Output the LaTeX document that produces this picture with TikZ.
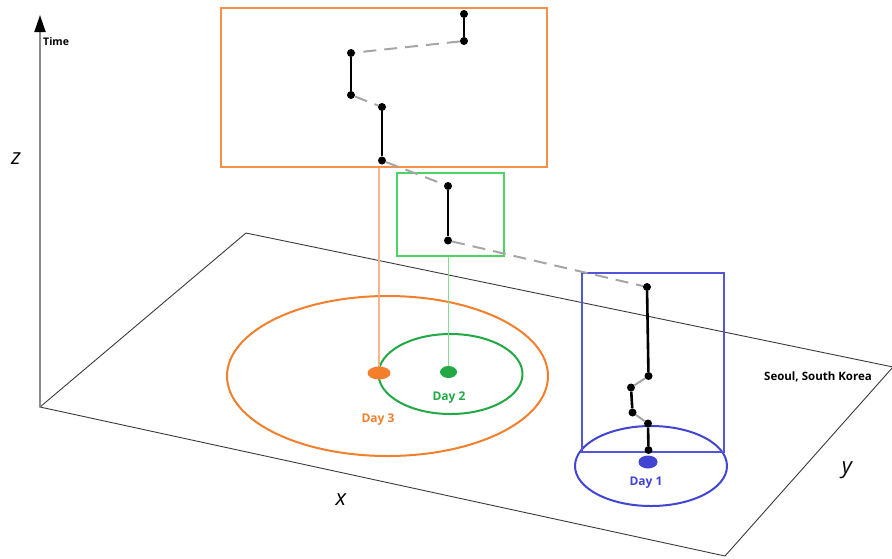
\documentclass[tikz,border=0pt]{standalone}
\usepackage{fontspec}
\setmainfont{Open Sans}
\usetikzlibrary{arrows.meta,shapes.geometric}
\definecolor{orng}{HTML}{F37F2C}
\definecolor{orngrect}{HTML}{F4904A}
\definecolor{orngline}{HTML}{F9B48A}
\definecolor{grn}{HTML}{22A845}
\definecolor{grnrect}{HTML}{4CD464}
\definecolor{grnline}{HTML}{7FE38E}
\definecolor{blu}{HTML}{4145D2}
\definecolor{blurect}{HTML}{5256D6}
\definecolor{dashgray}{HTML}{A6A6A6}
\definecolor{planegray}{HTML}{3A3A3A}
\definecolor{axisgray}{HTML}{8C8C8C}
\begin{document}
\begin{tikzpicture}[x=1pt,y=-1pt,
  dot/.style={circle,fill=black,inner sep=0pt,minimum size=8pt},
  seg/.style={black,line width=2.6pt},
  gap/.style={dashgray,line width=2pt,dash pattern=on 13pt off 8pt},
  box/.style={draw,line width=1.5pt,inner sep=0pt},
  ring/.style={draw,ellipse,line width=2pt,inner sep=0pt},
  blob/.style={ellipse,inner sep=0pt},
  daylabel/.style={font=\fontsize{12}{14}\selectfont\bfseries},
  axlabel/.style={font=\fontsize{22}{24}\selectfont\itshape},
]
\useasboundingbox (0,0) rectangle (892,558);

% plane
\coordinate (c1) at (40,407);
\coordinate (c2) at (246,233);
\coordinate (c3) at (893,367);
\coordinate (c4) at (725,556);
\draw[planegray,line width=0.9pt] (c1) -- (c2) -- (c3) -- (c4) -- cycle;

% time axis
\coordinate (ztop) at (40,15);
\draw[axisgray,line width=2pt,-{Triangle[length=17pt,width=11pt,color=black]}] (c1) -- (ztop);
\node[font=\fontsize{10.5}{12}\selectfont\bfseries,anchor=west,inner sep=0pt] (time) at (43,42) {Time};
\node[axlabel] (zlab) at (16,159) {z};
\node[axlabel] (xlab) at (341,500) {x};
\node[axlabel] (ylab) at (847,470) {y};
\node[font=\fontsize{11.5}{13}\selectfont\bfseries] (seoul) at (818,377) {Seoul, South Korea};

% ellipses
\node[ring,orng,minimum width=321pt,minimum height=160pt] (oell) at (387.5,376) {};
\node[ring,grn,minimum width=144pt,minimum height=80pt] (gell) at (450.5,374) {};
\node[ring,blu,minimum width=152pt,minimum height=80pt] (bell) at (651,466) {};

% boxes
\node[box,orngrect,minimum width=326pt,minimum height=159pt] (obox) at (384,87.5) {};
\node[box,grnrect,minimum width=107pt,minimum height=83pt] (gbox) at (450.5,214.5) {};
\node[box,blurect,minimum width=142pt,minimum height=179pt] (bbox) at (653,362.5) {};

% location positions
\coordinate (oc) at (379,373);
\coordinate (gc) at (448.5,372);
\coordinate (bc) at (648,462);

% projection lines
\draw[orngline,line width=1.5pt] (oc) -- (oc |- obox.south);
\draw[grnline,line width=1.5pt] (gc) -- (gc |- gbox.south);

% location blobs
\node[blob,fill=orng,minimum width=23pt,minimum height=13pt] (odot) at (oc) {};
\node[blob,fill=grn,minimum width=17pt,minimum height=12pt] (gdot) at (gc) {};
\node[blob,fill=blu,minimum width=19pt,minimum height=13pt] (bdot) at (bc) {};

\node[daylabel,text=orng] (d3) at (378,420) {Day 3};
\node[daylabel,text=grn] (d2) at (449,398) {Day 2};
\node[daylabel,text=blu] (d1) at (646,483) {Day 1};

% trajectory points
\node[dot] (p1) at (464,14) {};
\node[dot] (p2) at (464,41) {};
\node[dot] (p3) at (351,53) {};
\node[dot] (p4) at (351,95) {};
\node[dot] (p5) at (382,107) {};
\node[dot] (p6) at (382,160.5) {};
\node[dot] (p7) at (448,186) {};
\node[dot] (p8) at (448,240.5) {};
\node[dot] (p9) at (647,287) {};
\node[dot] (p10) at (648.5,376) {};
\node[dot] (p11) at (631,387.5) {};
\node[dot] (p12) at (632.5,412.5) {};
\node[dot] (p13) at (648,423.5) {};
\node[dot] (p14) at (648.5,450) {};

\draw[seg] (p1) -- (p2);
\draw[gap] (p2) -- (p3);
\draw[seg] (p3) -- (p4);
\draw[gap] (p4) -- (p5);
\draw[seg] (p5) -- (p6);
\draw[gap] (p6) -- (p7);
\draw[seg] (p7) -- (p8);
\draw[gap] (p8) -- (p9);
\draw[seg] (p9) -- (p10);
\draw[gap] (p10) -- (p11);
\draw[seg] (p11) -- (p12);
\draw[gap] (p12) -- (p13);
\draw[seg] (p13) -- (p14);
\end{tikzpicture}
\end{document}
